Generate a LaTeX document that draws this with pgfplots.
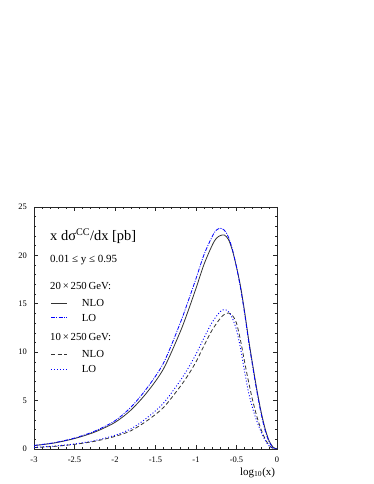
\documentclass[border=0pt]{standalone}
\usepackage{fontspec}
\setmainfont{Liberation Serif}
\usepackage{pgfplots}
\pgfplotsset{compat=1.18}
\pgfplotstableread{
x y
-3.0 0.35
-2.75 0.62
-2.5 1.08
-2.25 1.75
-2.0 2.75
-1.8 4.05
-1.6 5.9
-1.4 8.3
-1.2 12.0
-1.1 14.2
-1.0 16.6
-0.9 19.1
-0.8 21.05
-0.75 21.75
-0.7 22.05
-0.65 22.1
-0.6 21.65
-0.55 20.5
-0.5 18.8
-0.45 16.8
-0.4 14.2
-0.35 11.3
-0.3 8.7
-0.25 6.2
-0.2 4.0
-0.15 2.2
-0.1 0.9
-0.05 0.2
0.0 0.0
}\nlotw
\pgfplotstableread{
x y
-3.0 0.37
-2.75 0.65
-2.5 1.13
-2.25 1.85
-2.0 2.92
-1.8 4.35
-1.6 6.35
-1.4 8.9
-1.2 12.9
-1.1 15.2
-1.0 17.6
-0.9 20.1
-0.8 21.95
-0.75 22.6
-0.7 22.8
-0.65 22.6
-0.6 21.9
-0.55 20.6
-0.5 18.8
-0.45 16.6
-0.4 14.0
-0.35 11.1
-0.3 8.5
-0.25 6.0
-0.2 3.8
-0.15 2.0
-0.1 0.8
-0.05 0.15
0.0 0.0
}\lotw
\pgfplotstableread{
x y
-3.0 0.15
-2.75 0.27
-2.5 0.48
-2.25 0.8
-2.0 1.3
-1.8 1.9
-1.6 2.95
-1.4 4.3
-1.2 6.4
-1.1 7.6
-1.0 9.0
-0.9 10.7
-0.8 12.3
-0.7 13.5
-0.65 13.9
-0.6 14.05
-0.55 13.8
-0.5 13.0
-0.45 11.2
-0.4 9.0
-0.35 6.9
-0.3 5.0
-0.25 3.4
-0.2 2.1
-0.15 1.1
-0.1 0.4
-0.05 0.08
0.0 0.0
}\nloten
\pgfplotstableread{
x y
-3.0 0.17
-2.75 0.3
-2.5 0.52
-2.25 0.87
-2.0 1.42
-1.8 2.1
-1.6 3.25
-1.4 4.75
-1.2 7.0
-1.1 8.3
-1.0 9.8
-0.9 11.5
-0.8 13.1
-0.7 14.2
-0.65 14.4
-0.6 14.2
-0.55 13.5
-0.5 12.3
-0.45 10.4
-0.4 8.0
-0.35 5.8
-0.3 4.2
-0.25 2.9
-0.2 1.85
-0.15 0.95
-0.1 0.35
-0.05 0.05
0.0 0.0
}\loten
\begin{document}
\begin{tikzpicture}
\path[use as bounding box] (0,0) rectangle (374bp,484bp);
\begin{axis}[
  at={(34bp,35bp)}, anchor=south west,
  scale only axis, width=243bp, height=242bp,
  xmin=-3, xmax=0, ymin=0, ymax=25,
  xtick={-3,-2.5,-2,-1.5,-1,-0.5,0},
  xticklabels={-3,-2.5,-2,-1.5,-1,-0.5,0},
  ytick={0,5,10,15,20,25},
  minor x tick num=4, minor y tick num=4,
  tick align=inside, ticks=both,
  xtick pos=both, ytick pos=both,
  major tick length=4bp, minor tick length=2.2bp,
  axis line style={line width=0.8bp, black!85},
  every tick/.style={line width=0.6bp, black!85},
  tick label style={font=\fontsize{8.5}{10}\selectfont, inner sep=0pt},
  yticklabel style={xshift=-7bp},
  xticklabel style={yshift=-8bp},
  /pgf/number format/assume math mode=true,
  xlabel={log\textsubscript{10}(x)},
  xlabel style={at={(rel axis cs:1,0)}, anchor=north east, inner sep=0pt,
    font=\fontsize{11}{13}\selectfont, xshift=-1.7bp, yshift=-18.5bp},
]
\addplot[black!80, line width=0.8bp, smooth] table {\nlotw};
\addplot[blue, line width=0.8bp, smooth, dash pattern=on 4bp off 1.3bp on 1bp off 1.3bp] table {\lotw};
\addplot[black!80, line width=0.8bp, smooth, dash pattern=on 4bp off 2.5bp] table {\nloten};
\addplot[blue, line width=0.9bp, smooth, dash pattern=on 1bp off 2bp] table {\loten};

\node[anchor=base west, inner sep=0, font=\fontsize{14.5}{16}\selectfont] at (axis cs:-2.802,21.54) {x dσ\textsuperscript{CC}/dx [pb]};
\node[anchor=base west, inner sep=0, font=\fontsize{11}{13}\selectfont] at (axis cs:-2.802,19.24) {0.01 ≤ y ≤ 0.95};
\node[anchor=base west, inner sep=0, font=\fontsize{10.8}{13}\selectfont] at (axis cs:-2.802,16.5) {20\,×\,250\,GeV:};
\draw[black!80, line width=0.8bp] (axis cs:-2.79,15.05) -- (axis cs:-2.593,15.05);
\node[anchor=base west, inner sep=0, font=\fontsize{10.8}{13}\selectfont] at (axis cs:-2.411,14.7) {NLO};
\draw[blue, line width=0.8bp, dash pattern=on 4bp off 1.3bp on 1bp off 1.3bp] (axis cs:-2.79,13.56) -- (axis cs:-2.593,13.56);
\node[anchor=base west, inner sep=0, font=\fontsize{10.8}{13}\selectfont] at (axis cs:-2.411,13.22) {LO};
\node[anchor=base west, inner sep=0, font=\fontsize{10.8}{13}\selectfont] at (axis cs:-2.802,11.26) {10\,×\,250\,GeV:};
\draw[black!80, line width=0.8bp, dash pattern=on 4bp off 2.5bp] (axis cs:-2.79,9.78) -- (axis cs:-2.593,9.78);
\node[anchor=base west, inner sep=0, font=\fontsize{10.8}{13}\selectfont] at (axis cs:-2.411,9.43) {NLO};
\draw[blue, line width=0.9bp, dash pattern=on 1bp off 2bp] (axis cs:-2.79,8.26) -- (axis cs:-2.593,8.26);
\node[anchor=base west, inner sep=0, font=\fontsize{10.8}{13}\selectfont] at (axis cs:-2.411,7.92) {LO};
\end{axis}
\end{tikzpicture}
\end{document}
